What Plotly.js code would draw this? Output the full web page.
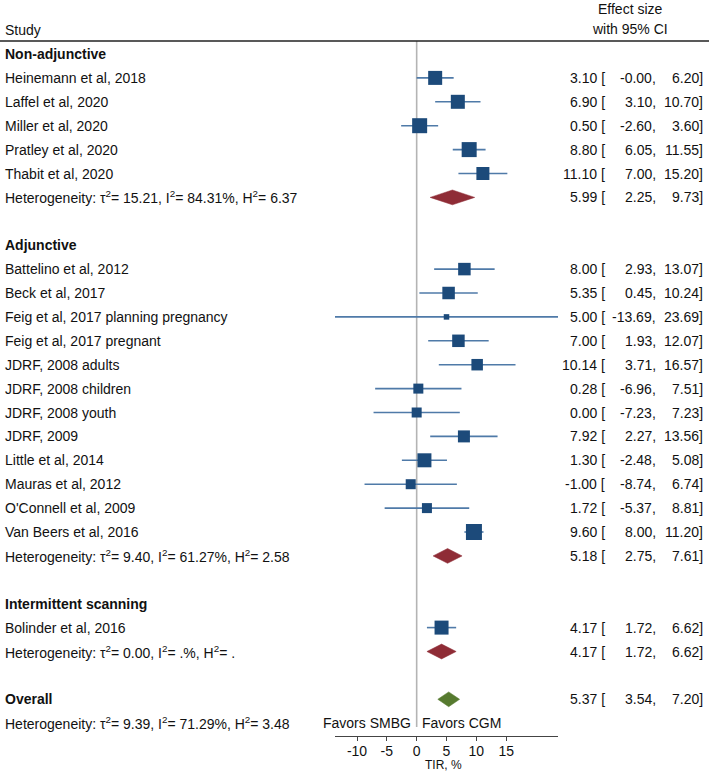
<!DOCTYPE html>
<html>
<head>
<meta charset="utf-8">
<script src="https://cdn.plot.ly/plotly-3.0.1.min.js"></script>
<style>
  html, body { margin: 0; padding: 0; background: #fff; }
  #chart { width: 709px; height: 773px; }
</style>
</head>
<body>
<div id="chart"></div>
<script>
// forest plot: TIR, CGM vs SMBG

const groupNames = ['Non-adjunctive', 'Adjunctive', 'Intermittent scanning'];
const groupEst = [5.99, 5.18, 4.17];
const groupLo = [2.25, 2.75, 1.72];
const groupHi = [9.73, 7.61, 6.62];
const groupHet = [
  'τ<sup>2</sup>= 15.21, I<sup>2</sup>= 84.31%, H<sup>2</sup>= 6.37',
  'τ<sup>2</sup>= 9.40, I<sup>2</sup>= 61.27%, H<sup>2</sup>= 2.58',
  'τ<sup>2</sup>= 0.00, I<sup>2</sup>= .%, H<sup>2</sup>= .',
];

const studyNames = [
  'Heinemann et al, 2018', 'Laffel et al, 2020', 'Miller et al, 2020', 'Pratley et al, 2020', 'Thabit et al, 2020',
  'Battelino et al, 2012', 'Beck et al, 2017', 'Feig et al, 2017 planning pregnancy', 'Feig et al, 2017 pregnant',
  'JDRF, 2008 adults', 'JDRF, 2008 children', 'JDRF, 2008 youth', 'JDRF, 2009', 'Little et al, 2014',
  'Mauras et al, 2012', "O'Connell et al, 2009", 'Van Beers et al, 2016',
  'Bolinder et al, 2016',
];
const studyGroup = [0, 0, 0, 0, 0, 1, 1, 1, 1, 1, 1, 1, 1, 1, 1, 1, 1, 2];
const studyEst = [3.10, 6.90, 0.50, 8.80, 11.10, 8.00, 5.35, 5.00, 7.00, 10.14, 0.28, 0.00, 7.92, 1.30, -1.00, 1.72, 9.60, 4.17];
const studyLo = [-0.004, 3.10, -2.60, 6.05, 7.00, 2.93, 0.45, -13.69, 1.93, 3.71, -6.96, -7.23, 2.27, -2.48, -8.74, -5.37, 8.00, 1.72];
const studyHi = [6.20, 10.70, 3.60, 11.55, 15.20, 13.07, 10.24, 23.69, 12.07, 16.57, 7.51, 7.23, 13.56, 5.08, 6.74, 8.81, 11.20, 6.62];
// box side in px (study weight)
const studyBox = [14, 14, 15, 15, 13, 12.5, 12.5, 5.5, 12.5, 11.5, 10, 10, 12, 14, 10, 10, 16, 14];

const overallEst = 5.37;
const overallLo = 3.54;
const overallHi = 7.20;
const overallHet = 'τ<sup>2</sup>= 9.39, I<sup>2</sup>= 71.29%, H<sup>2</sup>= 3.48';

const xTicks = [-10, -5, 0, 5, 10, 15];
const xTitle = 'TIR, %';

// ---- geometry ----
const W = 709, H = 773;
const ROW0 = 54, ROWH = 23.9;
const FONT = 'Liberation Sans, Arial, Helvetica, sans-serif';
const FS = 14;
const px = (v) => v / W;
const py = (v) => 1 - v / H;

// build row list
const rows = [];
groupNames.forEach((g, gi) => {
  rows.push({ kind: 'head', label: g });
  studyNames.forEach((s, si) => {
    if (studyGroup[si] === gi) rows.push({ kind: 'study', label: s, i: si });
  });
  rows.push({ kind: 'het', label: 'Heterogeneity: ' + groupHet[gi], g: gi });
  rows.push({ kind: 'blank' });
});
rows.push({ kind: 'head', label: 'Overall', overall: true });
rows.push({ kind: 'het', label: 'Heterogeneity: ' + overallHet, overall: true });

const fmt = (v) => v.toFixed(2);
const annotations = [];
function ann(text, x, r, anchor, extra) {
  annotations.push(Object.assign({
    text, x: px(x), xref: 'paper', y: r, yref: 'y',
    xanchor: anchor, yanchor: 'middle', showarrow: false,
    font: { family: FONT, size: FS, color: '#111' },
  }, extra || {}));
}
function ciText(r, e, l, h) {
  ann(fmt(e) + ' [', 607, r, 'right');
  ann(fmt(l) + ',', 658, r, 'right');
  ann(fmt(h) + ']', 705, r, 'right');
}

const boxX = [], boxY = [], boxS = [], errP = [], errM = [];
const redX = [], redY = [];
const greenX = [], greenY = [];
const DH = 0.31;
function diamond(xs, ys, e, l, h, r) {
  xs.push(l, e, h, e, l, null);
  ys.push(r, r - DH, r, r + DH, r, null);
}

rows.forEach((row, r) => {
  if (row.kind === 'head') {
    ann('<b>' + row.label + '</b>', 3, r, 'left');
    if (row.overall) {
      diamond(greenX, greenY, overallEst, overallLo, overallHi, r);
      ciText(r, overallEst, overallLo, overallHi);
    }
  } else if (row.kind === 'study') {
    const i = row.i;
    ann(row.label, 3, r, 'left');
    boxX.push(studyEst[i]); boxY.push(r); boxS.push(studyBox[i]);
    errP.push(studyHi[i] - studyEst[i]); errM.push(studyEst[i] - studyLo[i]);
    ciText(r, studyEst[i], studyLo[i], studyHi[i]);
  } else if (row.kind === 'het') {
    ann(row.label, 3, r, 'left');
    if (!row.overall) {
      const g = row.g;
      diamond(redX, redY, groupEst[g], groupLo[g], groupHi[g], r);
      ciText(r, groupEst[g], groupLo[g], groupHi[g]);
    } else {
      ann('Favors SMBG', 413, r, 'right');
      ann('Favors CGM', 420, r, 'left');
    }
  }
});

// header + axis title
const headFont = { family: FONT, size: FS, color: '#111' };
annotations.push(
  { text: 'Study', x: px(3), xref: 'paper', y: py(30), yref: 'paper', xanchor: 'left', yanchor: 'middle', showarrow: false, font: headFont },
  { text: 'Effect size', x: px(630), xref: 'paper', y: py(9), yref: 'paper', xanchor: 'center', yanchor: 'middle', showarrow: false, font: headFont },
  { text: 'with 95% CI', x: px(630), xref: 'paper', y: py(29), yref: 'paper', xanchor: 'center', yanchor: 'middle', showarrow: false, font: headFont },
  { text: xTitle, x: px(443), xref: 'paper', y: py(765), yref: 'paper', xanchor: 'center', yanchor: 'middle', showarrow: false, borderpad: 0, font: { family: FONT, size: 12, color: '#111' } },
);

const xMin = Math.min(...studyLo);
const xMax = Math.max(...studyHi);

const data = [
  {
    type: 'scatter', mode: 'markers', x: boxX, y: boxY,
    marker: { symbol: 'square', size: boxS, color: '#1c4a7a', opacity: 1, line: { width: 0 } },
    error_x: { type: 'data', symmetric: false, array: errP, arrayminus: errM, width: 0, thickness: 1.6, color: '#4f7aa8' },
    hoverinfo: 'skip', cliponaxis: false,
  },
  {
    type: 'scatter', mode: 'lines', x: redX, y: redY, fill: 'toself',
    fillcolor: '#8f2c36', line: { width: 0.5, color: '#8f2c36' }, hoverinfo: 'skip',
  },
  {
    type: 'scatter', mode: 'lines', x: greenX, y: greenY, fill: 'toself',
    fillcolor: '#567a2f', line: { width: 0.5, color: '#567a2f' }, hoverinfo: 'skip',
  },
];

const layout = {
  width: W, height: H,
  margin: { t: 0, r: 0, b: 0, l: 0 },
  paper_bgcolor: '#fff', plot_bgcolor: '#fff',
  showlegend: false,
  font: { family: FONT, size: FS, color: '#111' },
  xaxis: {
    domain: [px(335), px(558)],
    range: [xMin, xMax],
    anchor: 'free', position: 1 - 736 / H,
    showline: true, linecolor: '#444', linewidth: 1,
    ticks: 'outside', ticklen: 4, tickcolor: '#444', tickwidth: 1,
    ticklabelstandoff: -2,
    tickvals: xTicks, ticktext: xTicks.map(String),
    tickfont: { family: FONT, size: FS, color: '#111' },
    showgrid: false, zeroline: false,
    fixedrange: true,
  },
  yaxis: {
    domain: [0, 1],
    range: [(H - ROW0) / ROWH, -ROW0 / ROWH],
    visible: false, fixedrange: true,
  },
  shapes: [
    { type: 'line', xref: 'paper', yref: 'paper', x0: 0, x1: 1, y0: py(41), y1: py(41), line: { color: '#222', width: 1.5 } },
    { type: 'line', xref: 'x', yref: 'paper', x0: 0, x1: 0, y0: py(41), y1: py(727), line: { color: '#b4b4b4', width: 1.6 }, layer: 'below' },
  ],
  annotations,
};

Plotly.newPlot('chart', data, layout, { displayModeBar: false, staticPlot: true });
</script>
</body>
</html>
